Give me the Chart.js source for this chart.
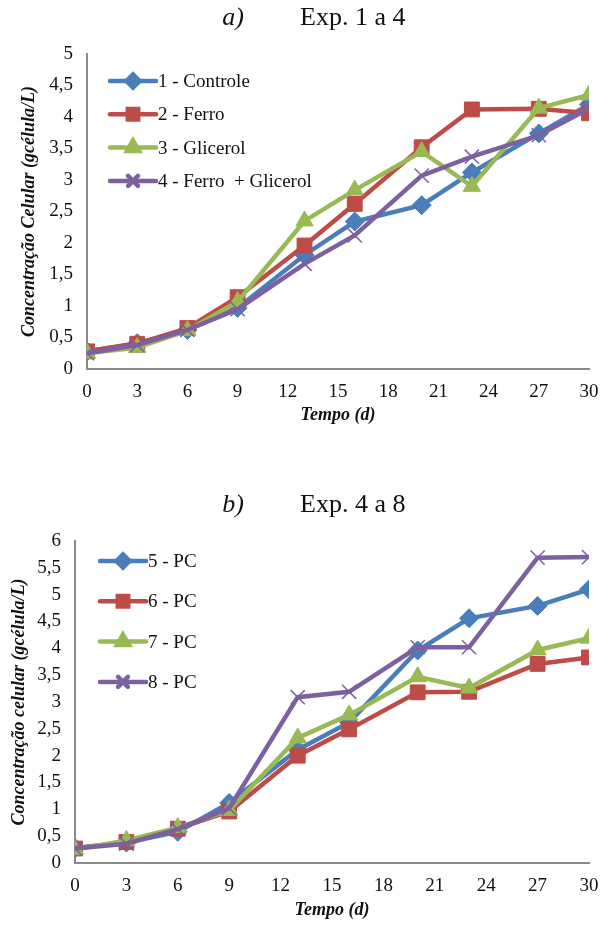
<!DOCTYPE html>
<html>
<head>
<meta charset="utf-8">
<script src="https://cdn.jsdelivr.net/npm/chart.js@4/dist/chart.umd.min.js"></script>
<style>
  body { margin: 0; background: #fff; width: 602px; height: 928px; position: relative; overflow: hidden; }
  canvas { position: absolute; left: 0; }
</style>
</head>
<body>
<canvas id="g1" width="602" height="440" style="top:0"></canvas>
<canvas id="g2" width="602" height="458" style="top:470px"></canvas>
<script>
// tempo (d)
const dias = [0, 3, 6, 9, 13, 16, 20, 23, 27, 30];

// a) Exp. 1 a 4
const controle = [0.28, 0.41, 0.62, 0.97, 1.81, 2.34, 2.60, 3.12, 3.74, 4.20];
const ferro = [0.28, 0.40, 0.65, 1.14, 1.96, 2.62, 3.52, 4.12, 4.13, 4.06];
const glicerol = [0.25, 0.34, 0.61, 1.07, 2.35, 2.84, 3.45, 2.90, 4.14, 4.35];
const ferroGlicerol = [0.25, 0.38, 0.62, 0.95, 1.67, 2.12, 3.07, 3.37, 3.71, 4.13];

// b) Exp. 4 a 8
const pc5 = [0.28, 0.38, 0.58, 1.12, 2.11, 2.62, 3.96, 4.56, 4.79, 5.10];
const pc6 = [0.27, 0.39, 0.64, 0.96, 2.00, 2.49, 3.18, 3.19, 3.71, 3.83];
const pc7 = [0.25, 0.42, 0.66, 0.98, 2.33, 2.76, 3.47, 3.26, 3.97, 4.19];
const pc8 = [0.27, 0.36, 0.63, 1.02, 3.09, 3.19, 4.02, 4.02, 5.69, 5.70];

const AZUL = "#4A7EBB", VERMELHO = "#BE4B48", VERDE = "#98B954", ROXO = "#7D60A0";
const FONTE = "'Liberation Serif', 'Times New Roman', serif";

const serie = (label, valores, cor, estilo, raio, ordem) => ({
  label: label,
  data: dias.map((d, i) => ({ x: d, y: valores[i] })),
  borderColor: cor,
  backgroundColor: cor,
  borderWidth: 4.5,
  pointStyle: estilo,
  pointRadius: raio,
  pointBorderWidth: estilo === "crossRot" ? 1.5 : 1,
  pointBackgroundColor: cor,
  pointBorderColor: cor,
  tension: 0,
  order: ordem,
});

// legenda dentro do gráfico, desenhada à mão (linha + marcador)
const legendaDentro = {
  id: "legendaDentro",
  afterDraw(chart, args, opts) {
    const ctx = chart.ctx;
    ctx.save();
    chart.data.datasets.forEach((ds, i) => {
      const y = opts.y + i * opts.gap;
      ctx.strokeStyle = ds.borderColor;
      ctx.fillStyle = ds.borderColor;
      ctx.lineWidth = 4.5;
      ctx.lineCap = "round";
      ctx.beginPath();
      ctx.moveTo(opts.x, y);
      ctx.lineTo(opts.x + opts.comp, y);
      ctx.stroke();
      Chart.helpers.drawPoint(ctx, {
        pointStyle: ds.pointStyle,
        radius: ds.pointRadius * 0.7,
        borderWidth: ds.pointBorderWidth,
        rotation: 0,
      }, opts.x + opts.comp / 2, y);
      ctx.fillStyle = "#111";
      ctx.font = "19px " + FONTE;
      ctx.textBaseline = "middle";
      ctx.textAlign = "left";
      ctx.fillText(ds.label, opts.x + opts.comp + 2, y + 1);
    });
    ctx.restore();
  },
};

// título com a parte "a)" em itálico
const tituloDuplo = {
  id: "tituloDuplo",
  afterDraw(chart, args, opts) {
    const ctx = chart.ctx;
    ctx.save();
    ctx.fillStyle = "#111";
    ctx.textBaseline = "middle";
    ctx.font = "italic 26px " + FONTE;
    ctx.textAlign = "center";
    ctx.fillText(opts.letra, 233, opts.y);
    ctx.font = "26px " + FONTE;
    ctx.textAlign = "left";
    ctx.fillText(opts.texto, 300, opts.y);
    ctx.restore();
  },
};

const grafico = (canvas, datasets, cfg) => {
  new Chart(canvas, {
    type: "line",
    data: { datasets: datasets },
    plugins: [legendaDentro, tituloDuplo],
    options: {
      responsive: false,
      animation: false,
      layout: { padding: cfg.padding },
      plugins: {
        legend: { display: false },
        tooltip: { enabled: false },
        legendaDentro: cfg.legenda,
        tituloDuplo: cfg.titulo,
      },
      scales: {
        x: {
          type: "linear",
          min: 0,
          max: 30,
          grid: { display: false, drawTicks: false },
          border: { display: true, color: "#8a8a8a", width: 2 },
          ticks: { stepSize: 3, color: "#111", padding: 12, font: { family: FONTE, size: 19 } },
          title: {
            display: true,
            text: "Tempo (d)",
            color: "#111",
            font: { family: FONTE, size: 18, weight: "bold", style: "italic" },
            padding: { top: 0, bottom: 0 },
          },
          afterFit: (s) => { s.height = cfg.altX; s.paddingRight = 0; s.paddingLeft = 0; },
        },
        y: {
          min: 0,
          max: cfg.maxY,
          grid: { display: false, drawTicks: false },
          border: { display: true, color: "#8a8a8a", width: 2 },
          ticks: {
            stepSize: 0.5,
            color: "#111",
            padding: 14,
            font: { family: FONTE, size: 19 },
            callback: (v) => String(v).replace(".", ","),
          },
          title: {
            display: true,
            text: cfg.tituloY,
            color: "#111",
            font: { family: FONTE, size: 18, weight: "bold", style: "italic" },
            padding: { top: 0, bottom: 0 },
          },
          afterFit: (s) => { s.width = cfg.largY; s.paddingTop = 0; s.paddingBottom = 0; },
        },
      },
    },
  });
};

grafico(document.getElementById("g1"), [
  serie("1 - Controle", controle, AZUL, "rectRot", 9.5, 4),
  serie("2 - Ferro", ferro, VERMELHO, "rect", 10.5, 3),
  serie("3 - Glicerol", glicerol, VERDE, "triangle", 10, 2),
  serie("4 - Ferro  + Glicerol", ferroGlicerol, ROXO, "crossRot", 10, 1),
], {
  padding: { top: 54, right: 13, bottom: 14, left: 19 },
  altX: 57,
  largY: 68,
  maxY: 5,
  tituloY: "Concentração Celular (gcélula/L)",
  legenda: { x: 110, y: 81, gap: 33.3, comp: 46 },
  titulo: { letra: "a)", texto: "Exp. 1 a 4", y: 18 },
});

grafico(document.getElementById("g2"), [
  serie("5 - PC", pc5, AZUL, "rectRot", 9.5, 4),
  serie("6 - PC", pc6, VERMELHO, "rect", 10.5, 3),
  serie("7 - PC", pc7, VERDE, "triangle", 10, 2),
  serie("8 - PC", pc8, ROXO, "crossRot", 10, 1),
], {
  padding: { top: 71, right: 13, bottom: 7, left: 9 },
  altX: 58,
  largY: 66,
  maxY: 6,
  tituloY: "Concentração celular (gcélula/L)",
  legenda: { x: 100, y: 91, gap: 40.3, comp: 46 },
  titulo: { letra: "b)", texto: "Exp. 4 a 8", y: 35 },
});
</script>
</body>
</html>
